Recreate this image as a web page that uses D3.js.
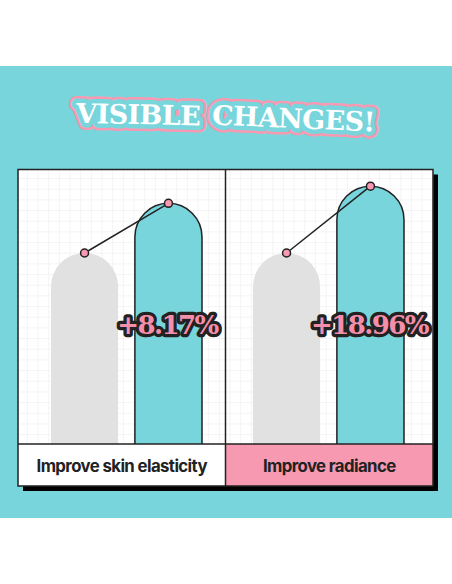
<!DOCTYPE html>
<html>
<head>
<meta charset="utf-8">
<script src="https://cdn.jsdelivr.net/npm/d3@7"></script>
<style>
  html, body { margin: 0; padding: 0; background: #ffffff; }
  svg { display: block; }
</style>
</head>
<body>
<svg id="chart" width="452" height="584"></svg>
<script>
// ---- data ----
const titleWords = ["VISIBLE", "CHANGES!"];
const categories = ["Improve skin elasticity", "Improve radiance"];
const series = ["before", "after"];
const beforeValues = [100, 100];          // baseline (relative height)
const afterValues = [126, 135];           // after use (relative height, as drawn)
const changeLabels = ["+8.17%", "+18.96%"];

// ---- styles ----
const TEAL = "#78d5dc", PINK = "#f799b1", GRAY = "#e1e1e1", INK = "#222222";

const svg = d3.select("#chart");

// background band
svg.append("rect").attr("x", 0).attr("y", 66).attr("width", 452).attr("height", 452).attr("fill", TEAL);

// ---- title ----
const titleSpec = [
  { word: titleWords[0], x: 138, y: 124, rot: 1.2 },
  { word: titleWords[1], x: 293, y: 128, rot: 2.5 }
];
const tg = svg.append("g").attr("font-family", "'DejaVu Serif', serif").attr("font-weight", "bold")
  .attr("font-size", 27).attr("text-anchor", "middle").attr("letter-spacing", -0.6);
[[PINK, 14], [TEAL, 9]].forEach(([c, w]) => {
  tg.selectAll(null).data(titleSpec).enter().append("text")
    .attr("transform", d => `translate(${d.x},${d.y}) rotate(${d.rot})`)
    .attr("fill", c).attr("stroke", c).attr("stroke-width", w).attr("stroke-linejoin", "round")
    .text(d => d.word);
});
tg.selectAll(null).data(titleSpec).enter().append("text")
  .attr("transform", d => `translate(${d.x},${d.y}) rotate(${d.rot})`)
  .attr("fill", "#ffffff").text(d => d.word);

// ---- panel geometry ----
const pLeft = 18, pRight = 433, pTop = 169.5, pBase = 444, pBottom = 486;
const x = d3.scaleBand().domain(categories).range([pLeft, pRight]).padding(0);          // panels
const gxs = d3.scaleBand().domain(categories).range([pLeft + 2, pRight - 9]).padding(0); // bar groups
const xi = d3.scaleBand().domain(series).range([31, 182]).paddingInner(0.2).paddingOuter(0);
const y = d3.scaleLinear().domain([0, 100]).range([pBase, 253]);
const cx = (c, s) => gxs(c) + xi(s) + xi.bandwidth() / 2;

// shadow
svg.append("rect").attr("x", pLeft + 5).attr("y", pTop + 5).attr("width", pRight - pLeft).attr("height", pBottom - pTop).attr("fill", "#000");
// panel body
svg.append("rect").attr("x", pLeft).attr("y", pTop).attr("width", pRight - pLeft).attr("height", pBottom - pTop).attr("fill", "#fff");

// grid
const grid = svg.append("g").attr("stroke", "#f1f1f1").attr("stroke-width", 0.8);
const gx = d3.range(pLeft + 9.3, pRight, 10.67), gy = d3.range(pTop + 9, pBase, 10.67);
grid.selectAll(null).data(gx).enter().append("line").attr("x1", d => d).attr("x2", d => d).attr("y1", pTop).attr("y2", pBase);
grid.selectAll(null).data(gy).enter().append("line").attr("y1", d => d).attr("y2", d => d).attr("x1", pLeft).attr("x2", pRight);

// label bands
const bandFill = ["#ffffff", PINK];
svg.selectAll(null).data(categories).enter().append("rect")
  .attr("x", d => x(d)).attr("y", pBase).attr("width", x.bandwidth()).attr("height", pBottom - pBase)
  .attr("fill", (d, i) => bandFill[i]);

// bars
function capPath(c, w, yt) {
  const r = w / 2;
  return `M${c - r},${pBase} L${c - r},${yt + r} A${r},${r} 0 0 1 ${c + r},${yt + r} L${c + r},${pBase}`;
}
const rows = categories.map((c, i) => ({ c, i, before: beforeValues[i], after: afterValues[i], label: changeLabels[i] }));
const g = svg.selectAll(null).data(rows).enter().append("g");
g.append("path").attr("d", d => capPath(cx(d.c, "before"), xi.bandwidth(), y(d.before)))
  .attr("fill", GRAY);
g.append("path").attr("d", d => capPath(cx(d.c, "after"), xi.bandwidth(), y(d.after)))
  .attr("fill", TEAL).attr("stroke", INK).attr("stroke-width", 1.5);
g.append("line")
  .attr("x1", d => cx(d.c, "before")).attr("y1", d => y(d.before))
  .attr("x2", d => cx(d.c, "after")).attr("y2", d => y(d.after))
  .attr("stroke", INK).attr("stroke-width", 1.5);
g.selectAll("circle").data(d => series.map(s => ({ x: cx(d.c, s), v: d[s] }))).enter()
  .append("circle").attr("cx", d => d.x).attr("cy", d => y(d.v)).attr("r", 4)
  .attr("fill", PINK).attr("stroke", INK).attr("stroke-width", 1.5);

// percentage labels
g.append("text")
  .attr("x", d => cx(d.c, "after") - 1).attr("y", 334)
  .attr("text-anchor", "middle").attr("font-family", "'DejaVu Serif', serif").attr("font-weight", "bold")
  .attr("font-size", 26).attr("letter-spacing", -1.6)
  .attr("fill", "#f48fab").attr("stroke", INK).attr("stroke-width", 6.5).attr("stroke-linejoin", "round")
  .attr("paint-order", "stroke")
  .text(d => d.label);

// category labels
svg.selectAll(null).data(categories).enter().append("text")
  .attr("x", d => x(d) + x.bandwidth() / 2).attr("y", 472)
  .attr("text-anchor", "middle").attr("font-family", "Inter, sans-serif").attr("font-weight", 700)
  .attr("font-size", 16.8).attr("letter-spacing", -0.6).attr("fill", INK)
  .text(d => d);

// borders
const borders = svg.append("g").attr("stroke", INK).attr("stroke-width", 1.5).attr("fill", "none");
borders.append("rect").attr("x", pLeft).attr("y", pTop).attr("width", pRight - pLeft).attr("height", pBottom - pTop);
borders.append("line").attr("x1", pLeft).attr("x2", pRight).attr("y1", pBase).attr("y2", pBase);
borders.append("line").attr("x1", x(categories[1])).attr("x2", x(categories[1])).attr("y1", pTop).attr("y2", pBottom);
</script>
</body>
</html>
